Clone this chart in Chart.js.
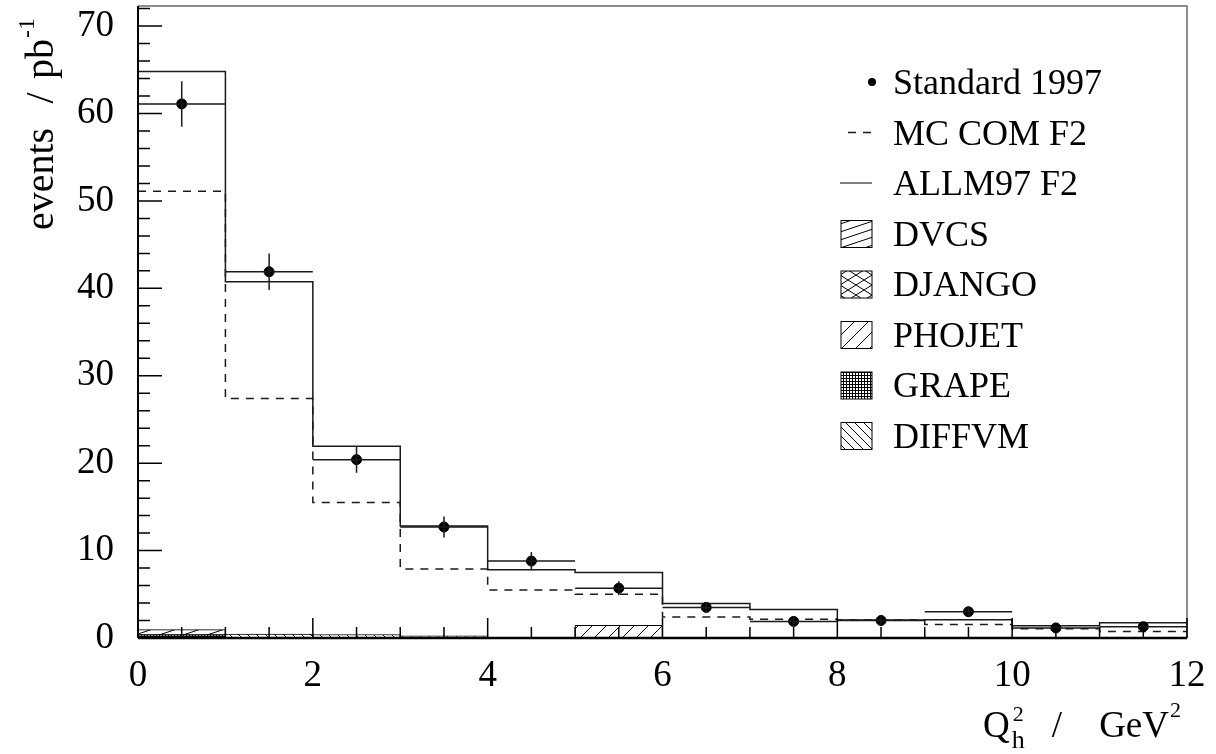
<!DOCTYPE html>
<html>
<head>
<meta charset="utf-8">
<script src="https://cdn.jsdelivr.net/npm/chart.js@4.4.1/dist/chart.umd.min.js"></script>
<style>
  html, body { margin: 0; padding: 0; background: #fff; }
  #wrap { width: 1216px; height: 754px; position: relative; }
</style>
</head>
<body>
<div id="wrap"><canvas id="chart"></canvas></div>
<script>
// Q2_h bin edges, GeV^2
const binEdges = [0, 1, 2, 3, 4, 5, 6, 7, 8, 9, 10, 11, 12];

// events / pb^-1 per bin
const dataValues = [61.1, 41.9, 20.4, 12.7, 8.8, 5.7, 3.5, 1.9, 2.0, 3.0, 1.15, 1.3];
const dataErrors = [2.6, 2.1, 1.5, 1.2, 1.05, 0.8, 0.6, 0.45, 0.45, 0.6, 0.35, 0.4];
const allm97 = [64.8, 40.75, 21.95, 12.8, 7.8, 7.5, 3.95, 3.25, 2.05, 2.1, 1.4, 1.75];
const mcCom = [51.1, 27.4, 15.5, 7.9, 5.5, 5.0, 2.4, 2.15, 2.05, 1.55, 1.05, 0.75];

// background processes (stacked)
const grape = [0.35, 0, 0, 0, 0, 0, 0, 0, 0, 0, 0, 0];
const dvcs = [0.6, 0, 0, 0, 0, 0, 0, 0, 0, 0, 0, 0];
const django = [0, 0, 0, 0, 0, 0, 0, 0, 0, 0, 0, 0];
const phojet = [0, 0, 0, 0, 0, 1.45, 0, 0, 0, 0, 0, 0];
const diffvm = [0, 0.45, 0.4, 0.25, 0, 0, 0, 0, 0, 0, 0, 0];

const xTicks = [0, 2, 4, 6, 8, 10, 12];
const yTicks = [0, 10, 20, 30, 40, 50, 60, 70];

const FONT = "'Liberation Serif', 'Times New Roman', serif";
const INK = "#1a1a1a";

function makePattern(w, h, draw) {
    const c = document.createElement("canvas");
    c.width = w;
    c.height = h;
    const g = c.getContext("2d");
    g.fillStyle = "#fff";
    g.fillRect(0, 0, w, h);
    g.strokeStyle = "#000";
    g.lineWidth = 1;
    draw(g, w, h);
    return g.createPattern(c, "repeat");
}

function slash(g, w, h) {
    // line rising to the right, repeated so tile edges join
    for (const dy of [-h, 0, h]) {
        g.beginPath();
        g.moveTo(0, h + dy);
        g.lineTo(w, dy);
        g.stroke();
    }
}

function backslash(g, w, h) {
    for (const dy of [-h, 0, h]) {
        g.beginPath();
        g.moveTo(0, dy);
        g.lineTo(w, h + dy);
        g.stroke();
    }
}

const patterns = {
    DVCS: makePattern(24, 8, slash),
    DJANGO: makePattern(16, 10, (g, w, h) => { slash(g, w, h); backslash(g, w, h); }),
    PHOJET: makePattern(14, 14, slash),
    GRAPE: makePattern(3, 3, (g) => {
        g.fillStyle = "#000";
        g.fillRect(0, 0, 3, 1);
        g.fillRect(0, 0, 1, 3);
    }),
    DIFFVM: makePattern(9, 9, backslash)
};

const stackList = [
    { name: "GRAPE", values: grape },
    { name: "DVCS", values: dvcs },
    { name: "DJANGO", values: django },
    { name: "PHOJET", values: phojet },
    { name: "DIFFVM", values: diffvm }
];

const binCenters = binEdges.slice(0, -1).map((e, i) => (e + binEdges[i + 1]) / 2);

function stepPoints(vals) {
    const pts = vals.map((v, i) => ({ x: binEdges[i], y: v }));
    pts.push({ x: binEdges[binEdges.length - 1], y: vals[vals.length - 1] });
    return pts;
}

function buildStack() {
    const base = binCenters.map(() => 0);
    return stackList.map((s) => {
        const pts = [];
        s.values.forEach((v, i) => {
            if (v > 0) pts.push({ x: binCenters[i], y: [base[i], base[i] + v] });
            base[i] += v;
        });
        return {
            type: "bar",
            label: s.name,
            data: pts,
            backgroundColor: patterns[s.name],
            borderColor: "#000",
            borderWidth: 1,
            borderSkipped: false,
            barPercentage: 1,
            categoryPercentage: 1,
            grouped: false,
            order: 5
        };
    });
}

const errorBars = {
    id: "errorBars",
    afterDatasetsDraw(chart) {
        const { ctx, scales: { x, y } } = chart;
        ctx.save();
        ctx.strokeStyle = INK;
        ctx.lineWidth = 1.5;
        dataValues.forEach((v, i) => {
            const py = y.getPixelForValue(v);
            const px = x.getPixelForValue(binCenters[i]);
            ctx.beginPath();
            ctx.moveTo(x.getPixelForValue(binEdges[i]), py);
            ctx.lineTo(x.getPixelForValue(binEdges[i + 1]), py);
            ctx.moveTo(px, y.getPixelForValue(v + dataErrors[i]));
            ctx.lineTo(px, y.getPixelForValue(v - dataErrors[i]));
            ctx.stroke();
        });
        ctx.restore();
    }
};

const frame = {
    id: "frame",
    afterDraw(chart) {
        const { ctx, chartArea: a, scales: { x, y } } = chart;
        ctx.save();
        // top and right frame
        ctx.strokeStyle = "#6a6a6a";
        ctx.lineWidth = 1.5;
        ctx.beginPath();
        ctx.moveTo(a.left, a.top);
        ctx.lineTo(a.right, a.top);
        ctx.lineTo(a.right, a.bottom);
        ctx.stroke();
        // axes
        ctx.strokeStyle = "#000";
        ctx.lineWidth = 2;
        ctx.beginPath();
        ctx.moveTo(a.left, a.top);
        ctx.lineTo(a.left, a.bottom);
        ctx.stroke();
        ctx.lineWidth = 2.5;
        ctx.beginPath();
        ctx.moveTo(a.left, a.bottom);
        ctx.lineTo(a.right, a.bottom);
        ctx.stroke();
        // inward ticks
        ctx.lineWidth = 1.5;
        ctx.beginPath();
        for (let k = 0; k * 2 <= y.max; k++) {
            const p = y.getPixelForValue(k * 2);
            const len = k % 5 === 0 ? 24 : 12;
            ctx.moveTo(a.left, p);
            ctx.lineTo(a.left + len, p);
        }
        for (let k = 0; k * 0.5 <= x.max; k++) {
            const p = x.getPixelForValue(k * 0.5);
            const len = k % 4 === 0 ? 20 : 11;
            ctx.moveTo(p, a.bottom);
            ctx.lineTo(p, a.bottom - len);
        }
        ctx.stroke();

        // axis titles
        ctx.fillStyle = "#000";
        ctx.textBaseline = "alphabetic";
        ctx.save();
        ctx.translate(53, 0);
        ctx.rotate(-Math.PI / 2);
        ctx.font = "40px " + FONT;
        ctx.textAlign = "left";
        ctx.fillText("events", -230, 0);
        ctx.textAlign = "center";
        ctx.fillText("/", -98, 0);
        ctx.textAlign = "left";
        ctx.fillText("pb", -79, 0);
        const pw = ctx.measureText("pb").width;
        ctx.font = "24px " + FONT;
        ctx.fillText("-1", -79 + pw + 1, -19);
        ctx.restore();

        ctx.textAlign = "left";
        ctx.font = "37px " + FONT;
        ctx.fillText("Q", 983, 737);
        const qw = ctx.measureText("Q").width;
        ctx.font = "26px " + FONT;
        ctx.fillText("h", 983 + qw + 2, 748);
        ctx.font = "22px " + FONT;
        ctx.fillText("2", 983 + qw + 3, 721);
        ctx.font = "37px " + FONT;
        ctx.textAlign = "center";
        ctx.fillText("/", 1057, 737);
        ctx.textAlign = "right";
        ctx.fillText("GeV", 1169, 737);
        ctx.textAlign = "left";
        ctx.font = "22px " + FONT;
        ctx.fillText("2", 1170, 717);

        // legend
        const lx = 893;
        const y0 = 82;
        const step = 50.5;
        ctx.font = "36px " + FONT;
        ctx.textAlign = "left";
        const entries = ["Standard 1997", "MC COM F2", "ALLM97 F2", "DVCS", "DJANGO", "PHOJET", "GRAPE", "DIFFVM"];
        entries.forEach((t, i) => {
            ctx.fillStyle = "#000";
            ctx.fillText(t, lx, y0 + i * step + 12);
        });
        // symbols
        ctx.beginPath();
        ctx.arc(872, y0, 4, 0, Math.PI * 2);
        ctx.fill();
        ctx.strokeStyle = INK;
        ctx.lineWidth = 1.5;
        ctx.setLineDash([8, 7]);
        ctx.beginPath();
        ctx.moveTo(848, y0 + step);
        ctx.lineTo(872, y0 + step);
        ctx.stroke();
        ctx.setLineDash([]);
        ctx.strokeStyle = "#555";
        ctx.beginPath();
        ctx.moveTo(840, y0 + 2 * step);
        ctx.lineTo(872, y0 + 2 * step);
        ctx.stroke();
        ["DVCS", "DJANGO", "PHOJET", "GRAPE", "DIFFVM"].forEach((n, j) => {
            const cy = y0 + (3 + j) * step;
            ctx.fillStyle = patterns[n];
            ctx.fillRect(841, cy - 13, 31, 27);
            ctx.strokeStyle = "#000";
            ctx.lineWidth = 1;
            ctx.strokeRect(841, cy - 13, 31, 27);
        });
        ctx.restore();
    }
};

const lineStyle = {
    type: "line",
    stepped: true,
    pointRadius: 0,
    borderWidth: 1.5,
    fill: false,
    order: 2
};

const datasets = [
    ...buildStack(),
    { ...lineStyle, label: "ALLM97 F2", data: stepPoints(allm97), borderColor: INK },
    { ...lineStyle, label: "MC COM F2", data: stepPoints(mcCom), borderColor: INK, borderDash: [8, 7] },
    {
        type: "scatter",
        label: "Standard 1997",
        data: dataValues.map((v, i) => ({ x: binCenters[i], y: v })),
        pointRadius: 5,
        pointBackgroundColor: "#000",
        pointBorderColor: "#000",
        order: 0
    }
];

function noPad(s) {
    s.paddingTop = 0;
    s.paddingBottom = 0;
    s.paddingLeft = 0;
    s.paddingRight = 0;
}

new Chart(document.getElementById("chart"), {
    type: "bar",
    data: { datasets },
    options: {
        responsive: true,
        maintainAspectRatio: false,
        animation: false,
        layout: { padding: { top: 5, right: 29, left: 0, bottom: 0 } },
        plugins: { legend: { display: false }, tooltip: { enabled: false } },
        scales: {
            x: {
                type: "linear",
                min: 0,
                max: 12,
                offset: false,
                grid: { display: false, drawTicks: false },
                border: { display: false },
                ticks: { color: "#000", padding: 16, maxRotation: 0, autoSkip: false, font: { family: FONT, size: 37 } },
                afterBuildTicks: (s) => { s.ticks = xTicks.map((v) => ({ value: v })); },
                afterFit: (s) => { s.height = 116; noPad(s); }
            },
            y: {
                type: "linear",
                min: 0,
                max: 72.3,
                grid: { display: false, drawTicks: false },
                border: { display: false },
                ticks: { color: "#000", padding: 24, font: { family: FONT, size: 37 } },
                afterBuildTicks: (s) => { s.ticks = yTicks.map((v) => ({ value: v })); },
                afterFit: (s) => { s.width = 138; noPad(s); }
            }
        }
    },
    plugins: [errorBars, frame]
});
</script>
</body>
</html>
